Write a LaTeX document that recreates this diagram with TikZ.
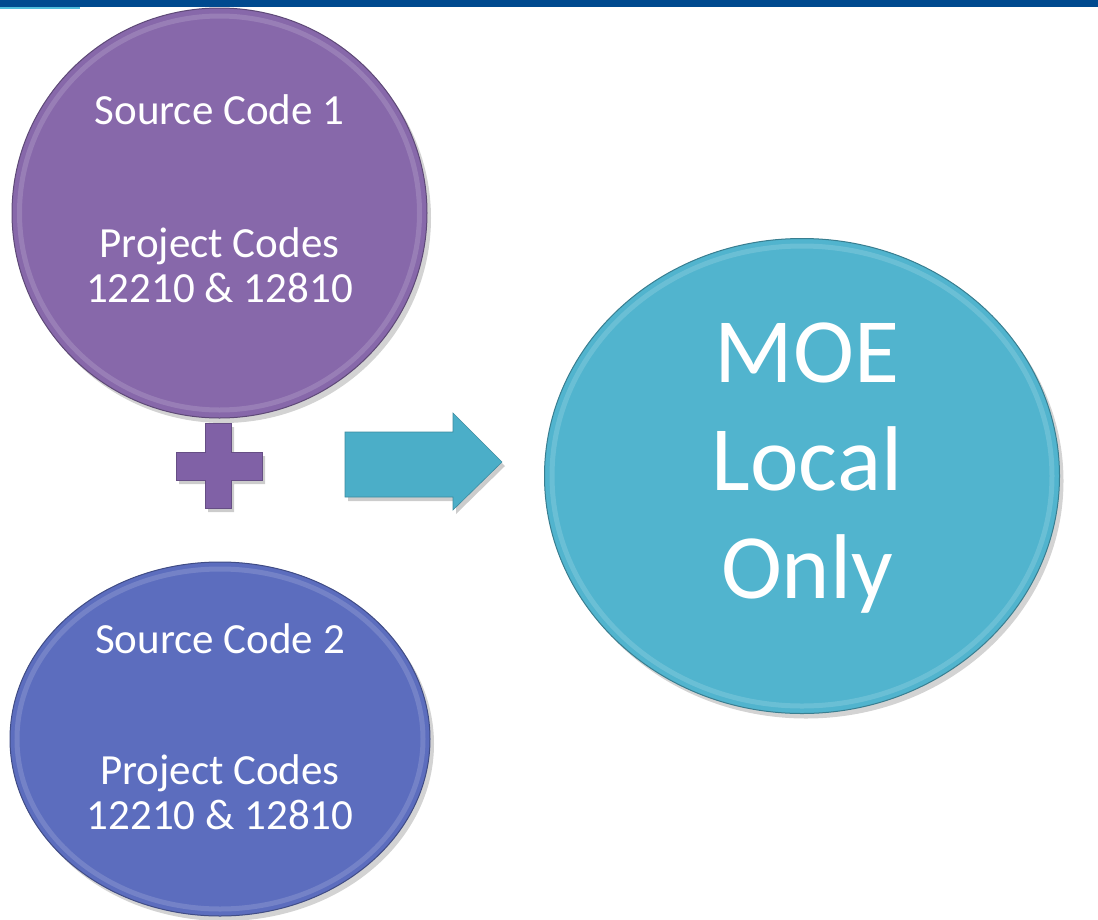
\documentclass[tikz,border=0pt]{standalone}
\usepackage{fontspec}
\setmainfont{Carlito}
\usetikzlibrary{shapes.geometric,shadows,positioning}

\definecolor{barblue}{RGB}{0,74,143}
\definecolor{barcyan}{RGB}{80,190,220}
\definecolor{srcpurple}{RGB}{135,104,170}
\definecolor{srcblue}{RGB}{92,109,190}
\definecolor{moeteal}{RGB}{81,180,206}
\definecolor{pluspurple}{RGB}{128,97,166}
\definecolor{arrowteal}{RGB}{75,174,200}

\begin{document}
\begin{tikzpicture}[x=1pt,y=-1pt,
  disc/.style={ellipse,inner sep=0pt,draw=#1!70!black,line width=1pt,fill=#1,
    drop shadow={opacity=0.35,shadow xshift=4pt,shadow yshift=-5pt}},
  rim/.style={draw=white,opacity=0.15,line width=5pt},
  small/.style={text=white,font=\fontsize{43}{45}\selectfont,anchor=base},
  big/.style={text=white,font=\fontsize{92}{108}\selectfont,anchor=base},
  sign/.style={fill=#1,draw=#1!80!black,line width=0.6pt,
    drop shadow={opacity=0.4,shadow xshift=3pt,shadow yshift=-4pt}}]
\useasboundingbox (0,0) rectangle (1098,919);

% top bar
\fill[barblue] (0,0) rectangle (1098,7);
\fill[barcyan] (0,7) rectangle (80,8.5);

% discs
\node[disc=srcpurple,minimum width=415pt,minimum height=410pt] (src1) at (219.5,213) {};
\node[disc=srcblue,minimum width=420pt,minimum height=354pt] (src2) at (220,739) {};
\node[disc=moeteal,minimum width=515pt,minimum height=475pt] (moe) at (802,476) {};
\draw[rim] (src1.center) ellipse [x radius=200pt, y radius=197pt];
\draw[rim] (src2.center) ellipse [x radius=203pt, y radius=170pt];
\draw[rim] (moe.center) ellipse [x radius=250pt, y radius=230pt];

% labels
\node[small] (src1name) at ([yshift=89pt]src1.center) {Source Code 1};
\node[small] (src1proj) at ([yshift=-44pt]src1.center) {Project Codes};
\node[small] (src1nums) at ([yshift=-89pt]src1.center) {12210 \& 12810};
\node[small] (src2name) at ([yshift=86pt]src2.center) {Source Code 2};
\node[small] (src2proj) at ([yshift=-45pt]src2.center) {Project Codes};
\node[small] (src2nums) at ([yshift=-90pt]src2.center) {12210 \& 12810};
\node[big] (moetop) at ([xshift=5pt,yshift=94pt]moe.center) {MOE};
\node[big] (moemid) at ([xshift=5pt,yshift=-14pt]moe.center) {Local};
\node[big] (moebot) at ([xshift=5pt,yshift=-122pt]moe.center) {Only};

% plus and arrow
\path[sign=pluspurple] (205,423) -- (231,423) -- (231,452) -- (262,452) -- (262,480)
  -- (231,480) -- (231,508) -- (205,508) -- (205,480) -- (176,480) -- (176,452)
  -- (205,452) -- cycle;
\path[sign=arrowteal] (345,432) -- (453,432) -- (453,413) -- (502,462) -- (453,510)
  -- (453,497) -- (345,497) -- cycle;
\end{tikzpicture}
\end{document}
